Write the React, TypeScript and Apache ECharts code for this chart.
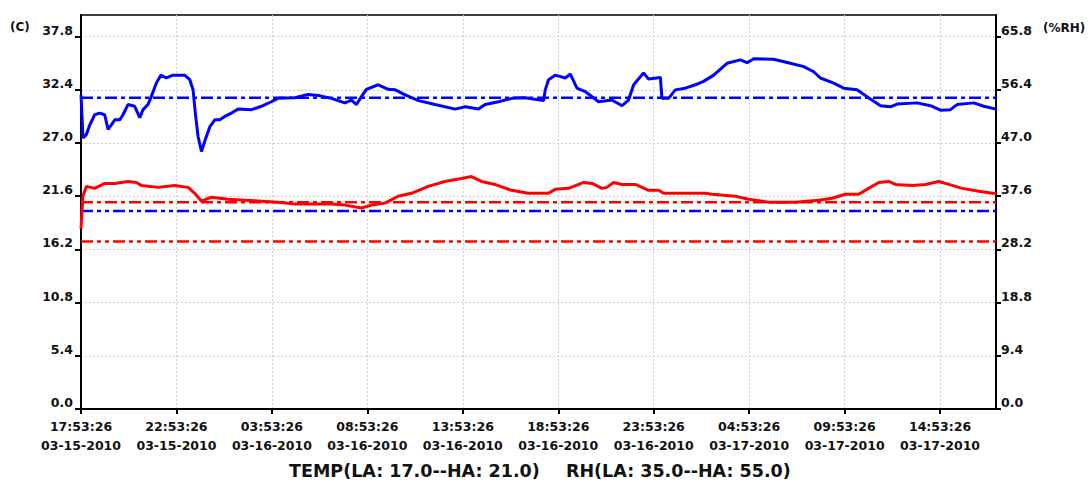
import React, { useEffect, useRef } from "react";
import * as echarts from "echarts";

// Hours elapsed since 03-15-2010 17:53:26
const rhHours = [0, 0.05, 0.1, 0.28, 0.46, 0.72, 0.98, 1.24, 1.42, 1.59, 1.77, 2.03, 2.2, 2.46, 2.81, 3.08, 3.25, 3.51, 3.68, 3.95, 4.18, 4.47, 4.82, 5.43, 5.7, 5.87, 5.99, 6.13, 6.31, 6.48, 6.75, 7.01, 7.27, 7.53, 7.88, 8.23, 8.93, 9.45, 9.97, 10.32, 11.2, 11.9, 12.42, 13.12, 13.82, 14.17, 14.43, 14.69, 14.95, 15.57, 16.09, 16.46, 16.98, 17.68, 18.55, 19.6, 20.13, 20.82, 21.17, 21.87, 22.57, 23.27, 24.23, 24.32, 24.49, 24.84, 25.37, 25.63, 25.98, 26.41, 27.11, 27.81, 28.34, 28.68, 28.95, 29.47, 29.73, 30.35, 30.43, 30.78, 31.13, 31.66, 32.18, 32.61, 33.14, 33.84, 34.54, 34.89, 35.24, 36.28, 37.16, 37.86, 38.38, 38.73, 39.43, 39.95, 40.65, 41.35, 41.88, 42.4, 42.75, 43.8, 44.5, 45.02, 45.54, 45.89, 46.76, 47.29, 47.93];
const rhValues = [55.5, 52.0, 47.9, 48.5, 50.2, 52.0, 52.3, 52.0, 49.4, 50.2, 51.1, 51.1, 52.0, 53.8, 53.5, 51.5, 52.9, 53.8, 55.2, 57.6, 59.0, 58.5, 59.0, 59.0, 58.2, 56.4, 52.3, 48.2, 45.5, 47.3, 49.9, 51.1, 51.1, 51.7, 52.3, 53.0, 52.9, 53.5, 54.3, 54.9, 55.0, 55.6, 55.4, 54.9, 54.1, 54.6, 53.8, 55.2, 56.5, 57.3, 56.5, 56.4, 55.5, 54.5, 53.8, 53.0, 53.4, 53.0, 53.8, 54.3, 54.9, 55.0, 54.5, 56.4, 58.2, 59.0, 58.5, 59.2, 56.7, 56.1, 54.3, 54.6, 53.6, 54.6, 57.3, 59.4, 58.3, 58.6, 54.9, 54.9, 56.4, 56.7, 57.3, 57.9, 59.0, 61.1, 61.7, 61.2, 61.9, 61.8, 61.1, 60.5, 59.6, 58.5, 57.6, 56.7, 56.4, 54.8, 53.6, 53.4, 53.9, 54.1, 53.6, 52.8, 52.9, 53.8, 54.1, 53.5, 53.0];

const tempHours = [0, 0.05, 0.1, 0.28, 0.72, 1.24, 1.77, 2.46, 2.9, 3.16, 4.04, 4.91, 5.61, 5.96, 6.31, 6.83, 7.7, 8.58, 9.45, 10.32, 11.2, 12.07, 13.12, 13.82, 14.69, 15.22, 15.92, 16.61, 17.31, 18.19, 19.06, 19.93, 20.46, 20.98, 21.68, 22.55, 23.43, 23.95, 24.49, 24.84, 25.54, 26.33, 26.77, 27.29, 27.55, 27.9, 28.34, 29.04, 29.73, 30.26, 30.52, 31.66, 32.7, 33.06, 34.28, 34.97, 36.02, 37.42, 38.64, 39.34, 40.04, 40.74, 41.26, 41.79, 42.31, 42.66, 43.54, 44.23, 44.93, 45.46, 46.16, 47.03, 47.73, 47.93];
const tempValues = [18.3, 19.9, 21.6, 22.6, 22.4, 22.9, 22.9, 23.1, 23.0, 22.7, 22.5, 22.7, 22.5, 21.9, 21.1, 21.5, 21.3, 21.2, 21.1, 21.0, 20.8, 20.8, 20.8, 20.7, 20.4, 20.7, 20.9, 21.6, 21.9, 22.6, 23.1, 23.4, 23.6, 23.1, 22.8, 22.2, 21.9, 21.9, 21.9, 22.3, 22.4, 23.0, 22.9, 22.4, 22.5, 23.0, 22.8, 22.8, 22.2, 22.2, 21.9, 21.9, 21.9, 21.8, 21.6, 21.3, 21.0, 21.0, 21.2, 21.4, 21.8, 21.8, 22.4, 23.0, 23.1, 22.8, 22.7, 22.8, 23.1, 22.8, 22.4, 22.1, 21.9, 21.9];

const tempLimits = { low: 17.0, high: 21.0 };
const rhLimits = { low: 35.0, high: 55.0 };

const xTickHours = [0, 5, 10, 15, 20, 25, 30, 35, 40, 45];
const xTickTimes = ["17:53:26", "22:53:26", "03:53:26", "08:53:26", "13:53:26", "18:53:26", "23:53:26", "04:53:26", "09:53:26", "14:53:26"];
const xTickDates = ["03-15-2010", "03-15-2010", "03-16-2010", "03-16-2010", "03-16-2010", "03-16-2010", "03-16-2010", "03-17-2010", "03-17-2010", "03-17-2010"];
const tempTicks = [0, 5.4, 10.8, 16.2, 21.6, 27.0, 32.4, 37.8];
const rhTicks = [0, 9.4, 18.8, 28.2, 37.6, 47.0, 56.4, 65.8];

const X_MAX = 47.93;
const FONT = "'DejaVu Sans', Verdana, sans-serif";
const TXT = "#111";

export default function App() {
  const ref = useRef<HTMLDivElement>(null);
  useEffect(() => {
    if (!ref.current) return;
    const chart = echarts.init(ref.current, null, { renderer: "svg" });
    const pair = (xs: number[], ys: number[]) => xs.map((x, i) => [x, ys[i]]);
    const flat = (v: number) => [[0, v], [X_MAX, v]];
    const dashDot = [12, 4, 4, 4];
    const dashDotDot = [12, 4, 4, 4, 4, 4];
    const gridLine = { show: true, lineStyle: { color: "#cfcfcf", type: [2, 2] as any, width: 1 } };
    const labelStyle = { fontFamily: FONT, fontWeight: "bold" as const, fontSize: 12.5, color: TXT };
    chart.setOption({
      animation: false,
      backgroundColor: "#fff",
      grid: { left: 81, right: 94, top: 15, bottom: 76, show: true, borderColor: "#000", borderWidth: 1.5, backgroundColor: "#fff" },
      xAxis: {
        type: "value",
        min: 0,
        max: X_MAX,
        interval: 2.5,
        axisLine: { lineStyle: { color: "#000", width: 2 } },
        axisTick: { show: true, length: 5, lineStyle: { color: "#000", width: 2 }, customValues: xTickHours },
        axisLabel: {
          ...labelStyle,
          customValues: xTickHours,
          margin: 8,
          lineHeight: 19,
          formatter: (v: number) => {
            const i = Math.round(v / 5);
            return xTickTimes[i] + "\n" + xTickDates[i];
          },
        },
        splitLine: gridLine,
      },
      yAxis: [
        {
          type: "value",
          min: 0,
          max: 40,
          interval: 2.7,
          position: "left",
          axisLine: { show: true, lineStyle: { color: "#000", width: 2 } },
          axisTick: { show: true, length: 6, lineStyle: { color: "#000", width: 2 }, customValues: tempTicks },
          axisLabel: { ...labelStyle, customValues: tempTicks, margin: 8, verticalAlign: "bottom", formatter: (v: number) => v.toFixed(1) },
          splitLine: gridLine,
        },
        {
          type: "value",
          min: 0,
          max: 40 / 5.4 * 9.4,
          interval: 4.7,
          position: "right",
          axisLine: { show: true, lineStyle: { color: "#000", width: 2 } },
          axisTick: { show: true, length: 5, lineStyle: { color: "#000", width: 2 }, customValues: rhTicks },
          axisLabel: { ...labelStyle, customValues: rhTicks, margin: 5, verticalAlign: "bottom", formatter: (v: number) => v.toFixed(1) },
          splitLine: { show: false },
        },
      ],
      series: [
        { name: "TEMP HA", type: "line", yAxisIndex: 0, data: flat(tempLimits.high), symbol: "none", silent: true, lineStyle: { color: "#ff0000", width: 2.5, type: dashDot } },
        { name: "TEMP LA", type: "line", yAxisIndex: 0, data: flat(tempLimits.low), symbol: "none", silent: true, lineStyle: { color: "#ff0000", width: 2.5, type: dashDotDot } },
        { name: "RH HA", type: "line", yAxisIndex: 1, data: flat(rhLimits.high), symbol: "none", silent: true, lineStyle: { color: "#0000ff", width: 2.5, type: dashDot } },
        { name: "RH LA", type: "line", yAxisIndex: 1, data: flat(rhLimits.low), symbol: "none", silent: true, lineStyle: { color: "#0000ff", width: 2.5, type: dashDotDot } },
        { name: "TEMP", type: "line", yAxisIndex: 0, data: pair(tempHours, tempValues), symbol: "none", lineStyle: { color: "#ff0000", width: 3 } },
        { name: "RH", type: "line", yAxisIndex: 1, data: pair(rhHours, rhValues), symbol: "none", lineStyle: { color: "#0000ff", width: 3 } },
      ],
      graphic: [
        { type: "text", x: 10, y: 27, style: { text: "(C)", font: `bold 12px ${FONT}`, fill: TXT, verticalAlign: "middle" } },
        { type: "text", x: 1043, y: 28, style: { text: "(%RH)", font: `bold 12px ${FONT}`, fill: TXT, verticalAlign: "middle" } },
        { type: "text", x: 289, y: 471, style: { text: `TEMP(LA: ${tempLimits.low.toFixed(1)}--HA: ${tempLimits.high.toFixed(1)})`, font: `bold 17.5px ${FONT}`, fill: TXT, verticalAlign: "middle" } },
        { type: "text", x: 566, y: 471, style: { text: `RH(LA: ${rhLimits.low.toFixed(1)}--HA: ${rhLimits.high.toFixed(1)})`, font: `bold 17.5px ${FONT}`, fill: TXT, verticalAlign: "middle" } },
      ],
    });
    return () => chart.dispose();
  }, []);
  return <div ref={ref} style={{ position: "fixed", left: 0, top: 0, width: 1090, height: 485 }} />;
}
